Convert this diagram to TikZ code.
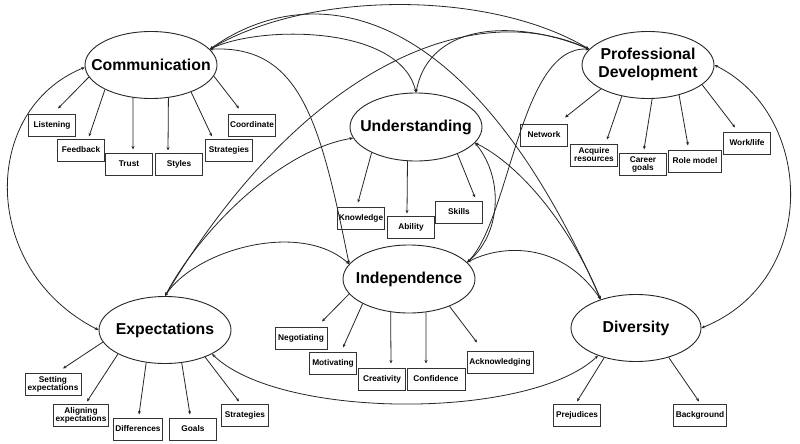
\documentclass[tikz,border=0pt]{standalone}
\usepackage{fontspec}
\setmainfont{Liberation Sans}
\usetikzlibrary{shapes.geometric,arrows.meta}
\tikzset{
  hub/.style={draw=black!85, line width=0.9pt, ellipse, minimum width=132pt, minimum height=67pt, inner sep=0pt, font=\fontsize{15.8}{18}\selectfont\bfseries},
  leaf/.style={draw=black!80, line width=1pt, rectangle, minimum width=47pt, minimum height=22pt, inner sep=1.5pt, align=center, font=\fontsize{8.3}{8}\selectfont\bfseries},
  link/.style={line width=0.8pt, draw=black!85, {Stealth[length=3.5pt,width=3pt]}-{Stealth[length=3.5pt,width=3pt]}},
  sub/.style={line width=0.8pt, draw=black!85, -{Stealth[length=3.5pt,width=3pt]}}
}
\newcommand{\onebox}[1]{\makebox[0pt]{#1}}
\begin{document}
\begin{tikzpicture}[x=1pt,y=-1pt]
\useasboundingbox (0,0) rectangle (800,444);
\fill[white] (0,0) rectangle (800,444);

% main ellipses
\node[hub] (C) at (151,65) {\onebox{Communication}};
\node[hub] (PD) at (648,65) {\onebox{\begin{tabular}{@{}c@{}}Professional\\Development\end{tabular}}};
\node[hub, minimum height=68pt] (U) at (416,127) {\onebox{Understanding}};
\node[hub, minimum height=68pt] (I) at (409,279) {\onebox{Independence}};
\node[hub] (E) at (165,330) {\onebox{Expectations}};
\node[hub, minimum width=130pt] (Div) at (636,328) {\onebox{Diversity}};

% Communication leaves
\node[leaf] (c1) at (52,125) {Listening};
\node[leaf] (c2) at (81,150) {Feedback};
\node[leaf] (c3) at (129,164) {Trust};
\node[leaf] (c4) at (179,164) {Styles};
\node[leaf] (c5) at (229,150) {Strategies};
\node[leaf] (c6) at (252,125) {Coordinate};

% Professional Development leaves
\node[leaf] (p1) at (544,135) {Network};
\node[leaf] (p2) at (594,155) {Acquire\\resources};
\node[leaf] (p3) at (643,164) {Career\\goals};
\node[leaf, minimum width=53pt] (p4) at (695,161) {Role model};
\node[leaf] (p5) at (747,143) {Work/life};

% Understanding leaves
\node[leaf] (u1) at (361,218) {Knowledge};
\node[leaf] (u2) at (411,227) {Ability};
\node[leaf] (u3) at (459,212) {Skills};

% Independence leaves
\node[leaf, minimum width=52pt] (i1) at (301,338) {Negotiating};
\node[leaf] (i2) at (333,363) {Motivating};
\node[leaf] (i3) at (382,379) {Creativity};
\node[leaf, minimum width=58pt] (i4) at (436,379) {Confidence};
\node[leaf, minimum width=66pt] (i5) at (500,362) {Acknowledging};

% Expectations leaves
\node[leaf, minimum width=56pt] (e1) at (53,384) {Setting\\expectations};
\node[leaf, minimum width=55pt] (e2) at (81,415) {Aligning\\expectations};
\node[leaf, minimum width=49pt] (e3) at (138,429) {Differences};
\node[leaf] (e4) at (193,429) {Goals};
\node[leaf] (e5) at (245,415) {Strategies};

% Diversity leaves
\node[leaf] (d1) at (577,415) {Prejudices};
\node[leaf, minimum width=53pt] (d2) at (700,415) {Background};

% leaf arrows
\draw[sub] (C.191) -- ([xshift=6pt,yshift=5pt]c1.north);
\draw[sub] (C.208) -- ([xshift=8pt,yshift=2pt]c2.north);
\draw[sub] (C.241) -- ([xshift=4pt,yshift=3pt]c3.north);
\draw[sub] (C.298) -- ([xshift=-11pt,yshift=2pt]c4.north);
\draw[sub] (C.326) -- ([xshift=-17pt,yshift=2pt]c5.north);
\draw[sub] (C.350) -- ([xshift=-13pt,yshift=5pt]c6.north);

\draw[sub] (PD.207) -- ([xshift=21pt,yshift=6pt]p1.north);
\draw[sub] (PD.230) -- ([xshift=13pt,yshift=4pt]p2.north);
\draw[sub] (PD.277) -- ([xshift=1pt,yshift=3pt]p3.north);
\draw[sub] (PD.316) -- ([xshift=-7pt,yshift=4pt]p4.north);
\draw[sub] (PD.340) -- ([xshift=-12pt,yshift=4pt]p5.north);

\draw[sub] (U.210) -- ([xshift=-3pt,yshift=4pt]u1.north);
\draw[sub] (U.256) -- ([xshift=-4pt,yshift=2pt]u2.north);
\draw[sub] (U.327) -- ([xshift=16pt,yshift=3pt]u3.north);

\draw[sub] (I.194) -- ([xshift=21pt,yshift=5pt]i1.north);
\draw[sub] (I.208) -- ([xshift=10pt,yshift=4pt]i2.north);
\draw[sub] (I.241) -- ([xshift=9pt,yshift=4pt]i3.north);
\draw[sub] (I.297) -- ([xshift=-10pt,yshift=4pt]i4.north);
\draw[sub] (I.326) -- ([xshift=-23pt,yshift=8pt]i5.north);

\draw[sub] (E.191) -- ([xshift=10pt,yshift=4pt]e1.north);
\draw[sub] (E.207) -- ([xshift=6pt,yshift=2pt]e2.north);
\draw[sub] (E.240) -- ([xshift=1pt,yshift=3pt]e3.north);
\draw[sub] (E.297) -- ([xshift=-3pt,yshift=3pt]e4.north);
\draw[sub] (E.326) -- ([xshift=-6pt,yshift=2pt]e5.north);

\draw[sub] (Div.223) -- ([yshift=2pt]d1.north);
\draw[sub] (Div.318) -- ([xshift=-1pt,yshift=2pt]d2.north);

% links between main topics
\draw[link] (C.15) .. controls (310,-10) and (490,-10) .. (PD.165);
\draw[link] (C.15) .. controls (260,25) and (400,25) .. (U.north);
\draw[link] (C.15) .. controls (300,-15) and (460,-20) .. (Div.141);
\draw[link] (C.15) .. controls (300,45) and (320,120) .. (I.166);
\draw[link] (PD.165) .. controls (470,-5) and (300,70) .. (E.north);
\draw[link] (PD.165) .. controls (520,20) and (430,20) .. (U.north);
\draw[link] (PD.165) .. controls (520,45) and (510,220) .. (I.16);
\draw[link] (E.north) .. controls (200,230) and (280,150) .. (U.190);
\draw[link] (E.north) .. controls (195,250) and (300,220) .. (I.166);
\draw[link] (I.16) .. controls (500,235) and (505,180) .. (U.-15);
\draw[link] (U.-15) .. controls (520,165) and (570,225) .. (Div.141);
\draw[link] (I.16) .. controls (500,245) and (560,240) .. (Div.141);
\draw[link] (C.182) .. controls (-20,110) and (-20,270) .. (E.west);
\draw[link] (PD.east) .. controls (815,115) and (820,280) .. (Div.east);
\draw[link] (E.-27) .. controls (280,420) and (530,420) .. (Div.216);
\end{tikzpicture}
\end{document}
